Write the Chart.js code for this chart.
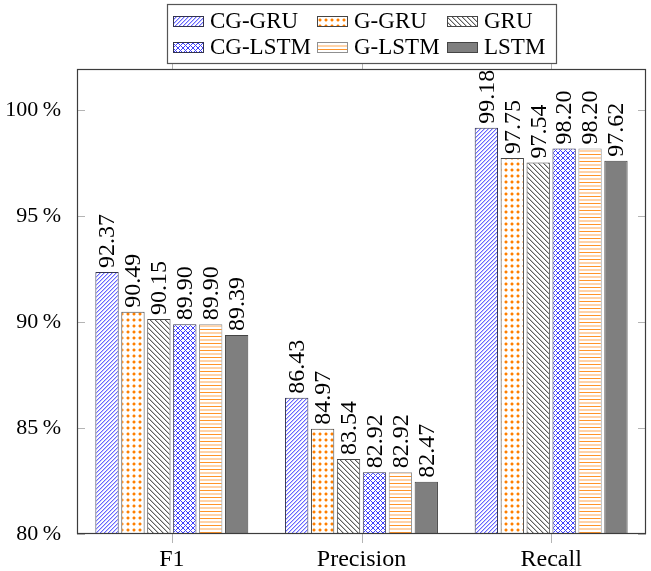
<!DOCTYPE html>
<html>
<head>
<meta charset="utf-8">
<script src="https://cdn.jsdelivr.net/npm/chart.js@4.4.1/dist/chart.umd.min.js"></script>
<style>
  html, body { margin: 0; padding: 0; background: #fff; }
  canvas { display: block; }
</style>
</head>
<body>
<canvas id="c" width="651" height="571"></canvas>
<script>
// ---- data ----
const categories = ['F1', 'Precision', 'Recall'];
const seriesNames = ['CG-GRU', 'G-GRU', 'GRU', 'CG-LSTM', 'G-LSTM', 'LSTM'];
const cgGru  = [92.37, 86.43, 99.18];
const gGru   = [90.49, 84.97, 97.75];
const gru    = [90.15, 83.54, 97.54];
const cgLstm = [89.90, 82.92, 98.20];
const gLstm  = [89.90, 82.92, 98.20];
const lstm   = [89.39, 82.47, 97.62];
const yTicks = [80, 85, 90, 95, 100];
const seriesValues = [cgGru, gGru, gru, cgLstm, gLstm, lstm];

const FONT = '"Liberation Serif", "DejaVu Serif", serif';

// ---- pixel-exact patterns ----
function pixPattern(size, fn) {
  const c = document.createElement('canvas');
  c.width = size; c.height = size;
  const x = c.getContext('2d');
  x.fillStyle = '#ffffff';
  x.fillRect(0, 0, size, size);
  for (let i = 0; i < size; i++) {
    for (let j = 0; j < size; j++) {
      const col = fn(i, j, size);
      if (col) { x.fillStyle = col; x.fillRect(i, j, 1, 1); }
    }
  }
  return document.getElementById('c').getContext('2d').createPattern(c, 'repeat');
}
const mod = (a, n) => ((a % n) + n) % n;
function dotPix(i, j) {
  const core = (i >= 1 && i <= 2 && j >= 1 && j <= 2);
  if (core) return '#ff7f00';
  const halo = (i >= 0 && i <= 3 && j >= 0 && j <= 3) && !((i === 0 || i === 3) && (j === 0 || j === 3));
  if (halo) return '#ffcf9e';
  return null;
}
const patterns = [
  // CG-GRU: blue north-east lines
  pixPattern(4, (i, j, s) => mod(i + j, s) === 0 ? '#6666ff' : (mod(i + j, s) === 1 ? '#c4c4ff' : null)),
  // G-GRU: orange dots
  pixPattern(6, dotPix),
  // GRU: gray north-west lines
  pixPattern(5, (i, j, s) => mod(i - j, s) === 0 ? '#5e5e5e' : (mod(i - j, s) === 1 ? '#c0c0c0' : null)),
  // CG-LSTM: blue crosshatch
  pixPattern(5, (i, j, s) => (mod(i + j, s) === 0 || mod(i - j, s) === 0) ? '#4040ff' : null),
  // G-LSTM: orange horizontal lines
  pixPattern(7, (i, j) => j === 0 ? '#ff9428' : ((j === 3 || j === 4) ? '#ffd3a8' : null)),
  // LSTM: solid gray
  '#7f7f7f'
];
const borders = ['#33334d', '#444444', '#444444', '#33334d', '#909090', '#444444'];

// ---- plugin: frame, tick marks, value labels, legend ----
const decor = {
  id: 'decor',
  afterDatasetsDraw(chart) {
    const ctx = chart.ctx;
    ctx.save();
    ctx.fillStyle = '#000';
    ctx.font = '24px ' + FONT;
    ctx.textAlign = 'left';
    ctx.textBaseline = 'middle';
    chart.data.datasets.forEach((ds, di) => {
      const meta = chart.getDatasetMeta(di);
      meta.data.forEach((el, i) => {
        ctx.save();
        ctx.translate(el.x + 1, el.y - 4);
        ctx.rotate(-Math.PI / 2);
        ctx.fillText(ds.data[i].toFixed(2), 0, 0);
        ctx.restore();
      });
    });
    ctx.restore();
  },
  afterDraw(chart) {
    const ctx = chart.ctx;
    const a = chart.chartArea;
    const xs = chart.scales.x, ys = chart.scales.y;
    ctx.save();
    // tick marks
    ctx.strokeStyle = '#b4b4b4';
    ctx.lineWidth = 1;
    ctx.beginPath();
    yTicks.forEach(v => {
      const py = Math.round(ys.getPixelForValue(v)) + 0.5;
      ctx.moveTo(a.left, py); ctx.lineTo(a.left + 8, py);
      ctx.moveTo(a.right, py); ctx.lineTo(a.right - 8, py);
    });
    categories.forEach((c, i) => {
      const px = Math.round(xs.getPixelForValue(i)) + 0.5;
      ctx.moveTo(px, a.bottom); ctx.lineTo(px, a.bottom + 9);
      ctx.moveTo(px, a.top); ctx.lineTo(px, a.top - 9);
    });
    ctx.stroke();
    // frame
    ctx.strokeStyle = '#3c3c3c';
    ctx.lineWidth = 1.2;
    ctx.strokeRect(a.left + 0.5, a.top + 0.5, a.right - a.left - 1, a.bottom - a.top - 1);
    // legend
    const L = { x: 167, y: 4, w: 389, h: 59 };
    ctx.fillStyle = '#fff';
    ctx.fillRect(L.x, L.y, L.w, L.h);
    ctx.strokeStyle = '#555';
    ctx.lineWidth = 1.2;
    ctx.strokeRect(L.x + 0.5, L.y + 0.5, L.w, L.h);
    const cols = [173, 317, 447];
    const rows = [21, 47];
    ctx.font = '23px ' + FONT;
    ctx.textBaseline = 'middle';
    ctx.textAlign = 'left';
    seriesNames.forEach((name, k) => {
      const cx = cols[k % 3], cy = rows[Math.floor(k / 3)];
      ctx.fillStyle = patterns[k];
      ctx.fillRect(cx, cy - 5, 31, 11);
      ctx.strokeStyle = borders[k];
      ctx.lineWidth = 1;
      ctx.strokeRect(cx + 0.5, cy - 5 + 0.5, 30, 10);
      ctx.fillStyle = '#000';
      ctx.fillText(name, cx + 37, cy + 1);
    });
    ctx.restore();
  }
};

new Chart(document.getElementById('c'), {
  type: 'bar',
  data: {
    labels: categories,
    datasets: seriesNames.map((name, k) => ({
      label: name,
      data: seriesValues[k],
      backgroundColor: patterns[k],
      borderColor: borders[k],
      borderWidth: 1,
      categoryPercentage: 0.82,
      barPercentage: 0.9
    }))
  },
  options: {
    responsive: false,
    animation: false,
    devicePixelRatio: 1,
    layout: { padding: { top: 69, left: 0, right: 5, bottom: 0 } },
    plugins: { legend: { display: false }, tooltip: { enabled: false } },
    scales: {
      x: {
        type: 'category',
        offset: true,
        grid: { display: false },
        border: { display: false },
        ticks: { color: '#000', font: { family: FONT, size: 24 }, padding: 3, maxRotation: 0 },
        afterFit: s => { s.height = 37; }
      },
      y: {
        min: 80,
        max: 101.95,
        grid: { display: false },
        border: { display: false },
        afterBuildTicks: s => { s.ticks = yTicks.map(v => ({ value: v })); },
        ticks: {
          color: '#000',
          font: { family: FONT, size: 22 },
          padding: 8,
          callback: v => v + '\u2009%'
        },
        afterFit: s => { s.width = 77; }
      }
    }
  },
  plugins: [decor]
});
</script>
</body>
</html>
